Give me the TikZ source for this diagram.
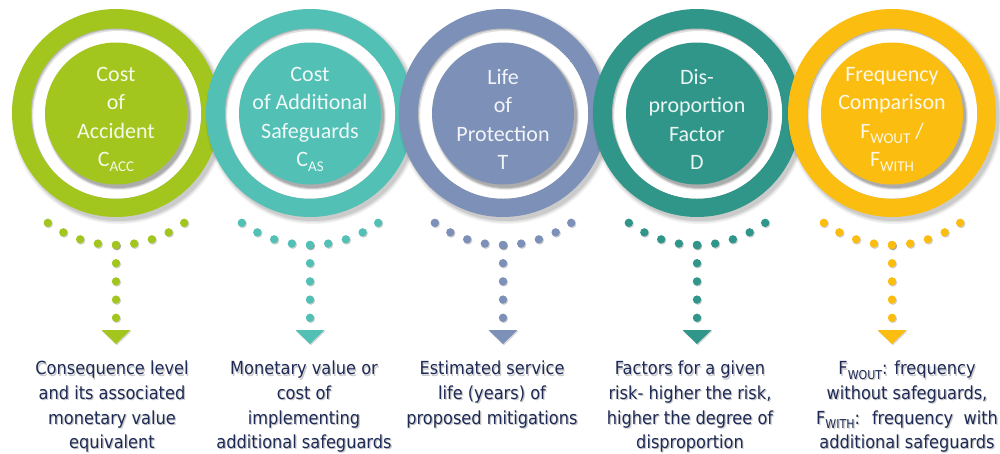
\documentclass[tikz,border=0pt]{standalone}
\usepackage{fontspec}
\setmainfont{Carlito}
\newfontfamily\descfont{DejaVu Sans Condensed}
\definecolor{cA}{HTML}{A3C61E}
\definecolor{cB}{HTML}{52C0B5}
\definecolor{cC}{HTML}{7D91B8}
\definecolor{cD}{HTML}{2F9689}
\definecolor{cE}{HTML}{FBBD10}
\definecolor{navy}{HTML}{1E2A55}
% lowered, smaller index letters (C_ACC, F_WOUT ...)
\newcommand\lowsub[1]{\raisebox{-0.45ex}{\fontsize{0.68em}{1em}\selectfont #1}}
\tikzset{
  circtext/.style={align=center, inner sep=0pt, font=\fontsize{22}{28.5}\selectfont},
  desctext/.style={align=center, inner sep=0pt, anchor=north, text=navy,
    font=\descfont\fontsize{18}{24.6}\selectfont},
  descshadow/.style={desctext, text=black, opacity=0.22},
  dotrow/.style={line width=8.4pt, line cap=round, dash pattern=on 0pt off 18.2pt},
}
\begin{document}
\begin{tikzpicture}[x=1pt, y=-1pt]
\useasboundingbox (0,0) rectangle (1000,453);
\fill[white] (0,0) rectangle (1000,453);

% rings, drawn left to right so each one lies over its left neighbour
\foreach \i/\cx/\cc/\txt in {
  1/116/cA/{Cost\\of\\Accident\\C\lowsub{ACC}},
  2/310/cB/{Cost\\of Additional\\Safeguards\\C\lowsub{AS}},
  3/503/cC/{Life\\of\\Protection\\T},
  4/697/cD/{Dis-\\proportion\\Factor\\D},
  5/892/cE/{Frequency\\Comparison\\F\lowsub{WOUT} /\\F\lowsub{WITH}}} {
  % soft drop shadow of the outer ring
  \foreach \r/\o in {107.5/0.05, 106/0.07, 104.5/0.09}
    \fill[black, opacity=\o] (\cx+3,116.5) circle[radius=\r pt];
  \node[circle, fill=\cc, minimum size=208pt, inner sep=0pt] (ring\i) at (\cx,113) {};
  % white gap, shaded along its upper left edge
  \begin{scope}
    \clip (\cx,113.5) circle[radius=85pt];
    \fill[black!28] (\cx,113.5) circle[radius=85pt];
    \fill[black!12] (\cx+1,114.5) circle[radius=85pt];
    \fill[white] (\cx+2.2,116) circle[radius=85pt];
  \end{scope}
  % inner disc with its shadow
  \foreach \r/\o in {73.5/0.08, 72.5/0.12, 71.5/0.16}
    \fill[black, opacity=\o] (\cx+2.5,116.5) circle[radius=\r pt];
  \node[circle, fill=\cc, minimum size=142pt, inner sep=0pt] (disc\i) at (\cx,113.5) {};
  \node[circtext, text=\cc!10!white] (label\i) at (\cx,119.5) {\txt};
}

% dotted arcs, dotted stems and arrow heads
\foreach \i/\cx/\cc in {1/116/cA, 2/310/cB, 3/503/cC, 4/697/cD, 5/892/cE} {
  \coordinate (arc\i) at (\cx,245);
  \coordinate (head\i) at (\cx,330);
  \foreach \a in {-36,-27,...,36} {
    \fill[black, opacity=0.18] ({\cx+116*sin(\a)+0.9},{129+116*cos(\a)+1.1}) circle[radius=4.3pt];
    \fill[\cc] ({\cx+116*sin(\a)},{129+116*cos(\a)}) circle[radius=4.2pt];
  }
  \draw[dotrow, black, opacity=0.18, transform canvas={xshift=0.9pt, yshift=-1.1pt}] (arc\i) -- (head\i);
  \draw[dotrow, \cc] (arc\i) -- (head\i);
  \fill[black, opacity=0.15] ([xshift=-14pt, yshift=-1.2pt]head\i) -- ([xshift=15.5pt, yshift=-1.2pt]head\i) -- ([xshift=1pt, yshift=-15.4pt]head\i) -- cycle;
  \fill[\cc] ([xshift=-14.5pt]head\i) -- ([xshift=14.5pt]head\i) -- ([yshift=-14pt]head\i) -- cycle;
}

% descriptions under the arrow heads
\foreach \i/\dx/\txt in {
  1/112/{Consequence level\\and its associated\\monetary value\\equivalent},
  2/304/{Monetary value or\\cost of\\implementing\\additional safeguards},
  3/492/{Estimated service\\life (years) of\\proposed mitigations},
  4/690/{Factors for a given\\risk- higher the risk,\\higher the degree of\\disproportion},
  5/907/{F\lowsub{WOUT}: frequency\\without safeguards,\\F\lowsub{WITH}:~ frequency~ with\\additional safeguards}} {
  \node[descshadow] at (\dx+1.2,362.2) {\txt};
  \node[desctext] (desc\i) at (\dx,361) {\txt};
}
\end{tikzpicture}
\end{document}
